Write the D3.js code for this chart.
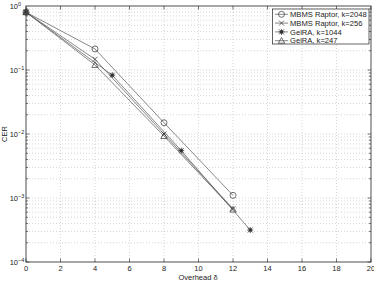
<!DOCTYPE html>
<html><head><meta charset="utf-8">
<script src="https://cdn.jsdelivr.net/npm/d3@7"></script>
<style>body{margin:0;background:#fff;}svg{display:block;font-family:"Liberation Sans",Arial,sans-serif;}</style>
</head><body><svg id="c" width="374" height="281"></svg>
<script>
const seriesNames = ["MBMS Raptor, k=2048","MBMS Raptor, k=256","GelRA, k=1044","GelRA, k=247"];
const markers = ["circle","x","star","triangle"];
const xs2048 = [0,4,8,12], ys2048 = [0.8,0.213,0.015,0.0011];
const xs256 = [0,4,8,12], ys256 = [0.8,0.147,0.0100,0.00068];
const xs1044 = [0,5,9,13], ys1044 = [0.8,0.083,0.0055,0.000316];
const xs247 = [0,4,8,12], ys247 = [0.8,0.12,0.0093,0.00066];
const xTicks = [0,2,4,6,8,10,12,14,16,18,20];
const yExps = [0,-1,-2,-3,-4];

const series = [[xs2048,ys2048],[xs256,ys256],[xs1044,ys1044],[xs247,ys247]];
const svg = d3.select("#c");
const L=26,R=371,T=6,B=262;
const x = d3.scaleLinear().domain([0,20]).range([L,R]);
const y = d3.scaleLog().domain([1e-4,1]).range([B,T]);

// grid
const g = svg.append("g");
xTicks.forEach(t=>{ if(t>0&&t<20) g.append("line").attr("x1",x(t)).attr("x2",x(t)).attr("y1",T).attr("y2",B).attr("stroke","#bbb").attr("stroke-width",0.6).attr("stroke-dasharray","1,2");});
const yMinor=[];
for(let e=-4;e<0;e++){for(let m=1;m<10;m++){yMinor.push(m*Math.pow(10,e));}}
yMinor.forEach(v=>{ if(v>1e-4) g.append("line").attr("x1",L).attr("x2",R).attr("y1",y(v)).attr("y2",y(v)).attr("stroke","#bbb").attr("stroke-width",0.6).attr("stroke-dasharray","1,2");});

// frame
svg.append("rect").attr("x",L).attr("y",T).attr("width",R-L).attr("height",B-T).attr("fill","none").attr("stroke","#222").attr("stroke-width",0.8);
// ticks inward
xTicks.forEach(t=>{
  svg.append("line").attr("x1",x(t)).attr("x2",x(t)).attr("y1",B).attr("y2",B-3.5).attr("stroke","#222").attr("stroke-width",0.6);
  svg.append("line").attr("x1",x(t)).attr("x2",x(t)).attr("y1",T).attr("y2",T+3.5).attr("stroke","#222").attr("stroke-width",0.6);
  svg.append("text").attr("x",x(t)).attr("y",271).attr("text-anchor","middle").attr("font-size",7.5).attr("fill","#222").text(t);
});
yMinor.forEach(v=>{
  const major = Math.abs(Math.log10(v)-Math.round(Math.log10(v)))<1e-9;
  const len = major?3.5:2;
  svg.append("line").attr("x1",L).attr("x2",L+len).attr("y1",y(v)).attr("y2",y(v)).attr("stroke","#222").attr("stroke-width",0.6);
  svg.append("line").attr("x1",R).attr("x2",R-len).attr("y1",y(v)).attr("y2",y(v)).attr("stroke","#222").attr("stroke-width",0.6);
});
yExps.forEach(e=>{
  const t = svg.append("text").attr("x",18).attr("y",y(Math.pow(10,e))+3).attr("text-anchor","end").attr("font-size",7.5).attr("fill","#222");
  t.append("tspan").text("10");
  svg.append("text").attr("x",18).attr("y",y(Math.pow(10,e))-0.5).attr("font-size",5.5).attr("fill","#222").text(e===0?"0":"\u2212"+(-e));
});
svg.append("text").attr("x",198).attr("y",280).attr("text-anchor","middle").attr("font-size",7.5).attr("fill","#222").text("Overhead \u03b4");
svg.append("text").attr("transform","translate(7,"+((T+B)/2)+") rotate(-90)").attr("text-anchor","middle").attr("font-size",7.5).attr("fill","#222").text("CER");

function drawMarker(sel,type,cx,cy){
  const s="#333";
  if(type==="circle") sel.append("circle").attr("cx",cx).attr("cy",cy).attr("r",3).attr("fill","none").attr("stroke",s).attr("stroke-width",0.7);
  else if(type==="x"){ sel.append("path").attr("d",`M${cx-2.5},${cy-2.5}L${cx+2.5},${cy+2.5}M${cx-2.5},${cy+2.5}L${cx+2.5},${cy-2.5}`).attr("stroke",s).attr("stroke-width",0.7);}
  else if(type==="star"){ sel.append("path").attr("d",`M${cx-2.5},${cy-2.5}L${cx+2.5},${cy+2.5}M${cx-2.5},${cy+2.5}L${cx+2.5},${cy-2.5}M${cx-3},${cy}L${cx+3},${cy}M${cx},${cy-3}L${cx},${cy+3}`).attr("stroke",s).attr("stroke-width",0.8);
    sel.append("rect").attr("x",cx-1.5).attr("y",cy-1.5).attr("width",3).attr("height",3).attr("fill",s);}
  else if(type==="triangle"){ sel.append("path").attr("d",`M${cx},${cy-3.2}L${cx+3.2},${cy+2.5}L${cx-3.2},${cy+2.5}Z`).attr("fill","none").attr("stroke",s).attr("stroke-width",0.7);}
}
const line = d3.line().x(d=>x(d[0])).y(d=>y(d[1]));
series.forEach((s,i)=>{
  const pts = s[0].map((v,j)=>[v,s[1][j]]);
  svg.append("path").attr("d",line(pts)).attr("fill","none").attr("stroke","#555").attr("stroke-width",0.7);
  pts.forEach(p=>drawMarker(svg,markers[i],x(p[0]),y(p[1])));
});

// legend
const lg = svg.append("g");
lg.append("rect").attr("x",272.5).attr("y",9).attr("width",96.5).attr("height",35).attr("fill","#fff").attr("stroke","#222").attr("stroke-width",0.7);
seriesNames.forEach((n,i)=>{
  const yy = 14.3 + i*8.8;
  lg.append("line").attr("x1",275).attr("x2",288).attr("y1",yy).attr("y2",yy).attr("stroke","#555").attr("stroke-width",0.7);
  drawMarker(lg,markers[i],281.5,yy);
  lg.append("text").attr("x",290).attr("y",yy+2.7).attr("font-size",7.6).attr("fill","#222").text(n);
});
</script></body></html>
